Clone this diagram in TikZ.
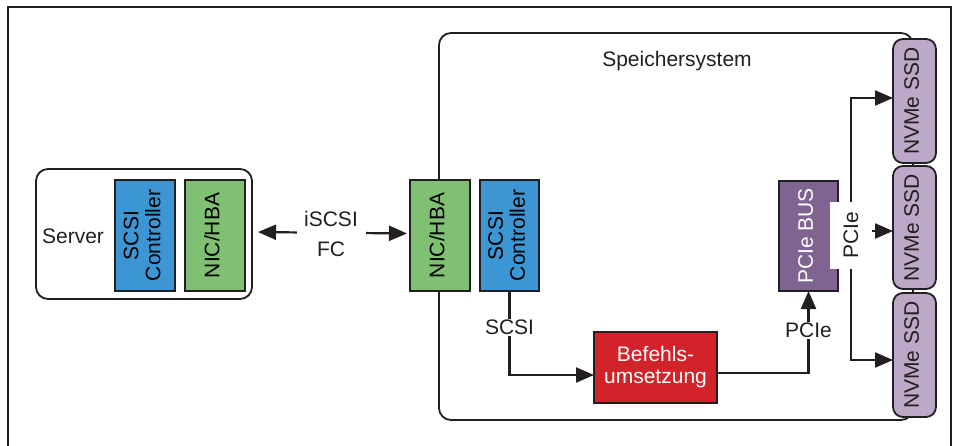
\documentclass[tikz,border=0pt]{standalone}
\usepackage{fontspec}
\setmainfont{Liberation Sans}
\usetikzlibrary{arrows.meta}
\definecolor{lc}{HTML}{231F20}
\definecolor{cblue}{HTML}{3B96D3}
\definecolor{cgreen}{HTML}{7FC073}
\definecolor{cred}{HTML}{D2232A}
\definecolor{cpurple}{HTML}{7F6390}
\definecolor{clav}{HTML}{BBA9C7}
\tikzset{
  box/.style={draw=lc, line width=1.8pt, inner sep=0pt, outer sep=0pt, anchor=center},
  arr/.style={draw=lc, line width=2.2pt, -{Triangle[length=18pt,width=15pt]}},
  arrboth/.style={draw=lc, line width=2.2pt, {Triangle[length=18pt,width=15pt]}-{Triangle[length=18pt,width=15pt]}},
  ln/.style={draw=lc, line width=2.2pt},
  txt/.style={text=lc, inner sep=1pt},
}
\newcommand{\rtext}[1]{\rotatebox{90}{\begin{tabular}{@{}c@{}}#1\end{tabular}}}
\begin{document}
\begin{tikzpicture}[x=1pt,y=-1pt, font=\fontsize{21}{22}\selectfont]
\useasboundingbox (0,0) rectangle (960,446);
% outer frame
\coordinate (f1) at (8,446);
\coordinate (f2) at (8,7);
\coordinate (f3) at (951,7);
\coordinate (f4) at (951,446);
\draw[ln] (f1) -- (f2) -- (f3) -- (f4);
% server
\node[box, rounded corners=12pt, minimum width=216, minimum height=130] (srv) at (144,234) {};
\node[txt] (srvlab) at (73,236) {Server};
\node[box, fill=cblue, minimum width=60, minimum height=111] (scsi1) at (145,235.5) {\rtext{SCSI\\Controller}};
\node[box, fill=cgreen, minimum width=60, minimum height=111] (nic1) at (215,235.5) {\rtext{NIC/HBA}};
% storage system
\node[box, rounded corners=12pt, minimum width=474, minimum height=387] (sto) at (676,226.5) {};
\node[txt] (stolab) at (677,61) {Speichersystem};
\node[box, fill=cgreen, minimum width=60, minimum height=111] (nic2) at (440,235.5) {\rtext{NIC/HBA}};
\node[box, fill=cblue, minimum width=59, minimum height=111] (scsi2) at (509.5,235.5) {\rtext{SCSI\\Controller}};
\node[box, fill=cred, minimum width=123, minimum height=71, text=white, align=center] (bef) at (655.5,367.5) {Befehls-\\umsetzung};
\node[box, fill=cpurple, minimum width=59, minimum height=110, text=white] (bus) at (808.5,236) {\rtext{PCIe BUS}};
\node[box, fill=clav, rounded corners=10pt, minimum width=43, minimum height=124, text=lc] (ssd1) at (914.5,101) {\rtext{NVMe SSD}};
\node[box, fill=clav, rounded corners=10pt, minimum width=43, minimum height=123, text=lc] (ssd2) at (914.5,227.5) {\rtext{NVMe SSD}};
\node[box, fill=clav, rounded corners=10pt, minimum width=43, minimum height=124, text=lc] (ssd3) at (914.5,355) {\rtext{NVMe SSD}};
% network connection
\draw[arrboth, shorten <=6pt, shorten >=3pt]
  ([yshift=2pt]srv.east) -- node[fill=white, txt, minimum width=69, align=center, inner sep=0pt, yshift=-1pt] (netlab) {iSCSI\\[8pt]FC} ([yshift=2pt]nic2.west);
% SCSI path
\coordinate (c1) at (509.5,375);
\draw[arr] (scsi2.south) -- node[pos=0.43, fill=white, txt] (scsilab) {SCSI} (c1) -- (bef.west |- c1);
% PCIe path
\coordinate (c2) at (717,373);
\draw[arr] (c2) -| node[pos=0.76, fill=white, txt] (pcielab) {PCIe} (bus.south);
% bus to SSDs
\coordinate (bj) at (851,235);
\draw[arr] (bj) |- ([yshift=3pt]ssd1.west);
\draw[arr] (bj) |- ([yshift=-5pt]ssd3.west);
\draw[arr] (bj) |- ([yshift=-3.5pt]ssd2.west);
\node[fill=white, inner sep=0pt, minimum width=42, minimum height=67, text=lc] (buslab) at (851,235.5) {\rotatebox{90}{PCIe}};
\end{tikzpicture}
\end{document}
